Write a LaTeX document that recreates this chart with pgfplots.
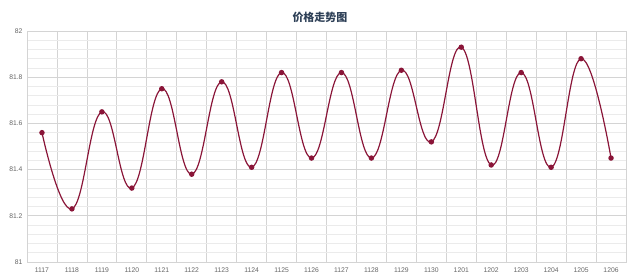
\documentclass[border=0pt]{standalone}
\usepackage{fontspec}
\setmainfont{Liberation Sans}
\newfontfamily\cjk{Noto Sans CJK SC}
\usepackage{pgfplots}
\pgfplotsset{compat=1.18}
\definecolor{linec}{HTML}{8A1538}
\definecolor{titlec}{HTML}{2E4057}
\definecolor{majg}{HTML}{D4D4D4}
\definecolor{ming}{HTML}{EBEBEB}
\definecolor{tickc}{HTML}{666666}
\begin{document}
\begin{tikzpicture}
\begin{axis}[
  scale only axis,
  width=599bp, height=231bp,
  xmin=-0.5, xmax=19.5,
  ymin=81, ymax=82,
  xtick={0,...,19},
  xticklabels={1117,1118,1119,1120,1121,1122,1123,1124,1125,1126,1127,1128,1129,1130,1201,1202,1203,1204,1205,1206},
  minor xtick={0.5,1.5,...,18.5},
  ytick={81,81.2,81.4,81.6,81.8,82},
  yticklabels={81,81.2,81.4,81.6,81.8,82},
  minor ytick={81.04,81.08,...,81.98},
  major tick length=0pt, minor tick length=0pt,
  xmajorgrids=false, xminorgrids=true,
  ymajorgrids=true, yminorgrids=true,
  minor x grid style={majg, line width=0.8pt},
  major y grid style={majg, line width=0.8pt},
  minor y grid style={ming, line width=0.6pt},
  axis line style={majg, line width=0.8pt},
  tick label style={font=\fontsize{6.8}{7}\selectfont, text=tickc},
  xticklabel style={text height=5bp, text depth=0pt, yshift=-1.5bp},
  yticklabel style={xshift=-1bp},
  clip=false,
]
\addplot[linec, line width=1.2pt, smooth, tension=0.75, mark=*, mark size=2.1pt, mark options={fill=linec, draw=linec}]
coordinates {
(0,81.56) (1,81.23) (2,81.65) (3,81.32) (4,81.75) (5,81.38) (6,81.78) (7,81.41) (8,81.82) (9,81.45)
(10,81.82) (11,81.45) (12,81.83) (13,81.52) (14,81.93) (15,81.42) (16,81.82) (17,81.41) (18,81.88) (19,81.45)
};
\coordinate (sw) at (rel axis cs:0,0);
\coordinate (ne) at (rel axis cs:1,1);
\node[font=\cjk\bfseries\fontsize{11}{12}\selectfont, text=titlec] at ([yshift=14bp]rel axis cs:0.489,1) {价格走势图};
\end{axis}
\pgfresetboundingbox
\path[use as bounding box] ([xshift=-27bp,yshift=-17bp]sw) rectangle ([xshift=14bp,yshift=31bp]ne);
\end{tikzpicture}
\end{document}
